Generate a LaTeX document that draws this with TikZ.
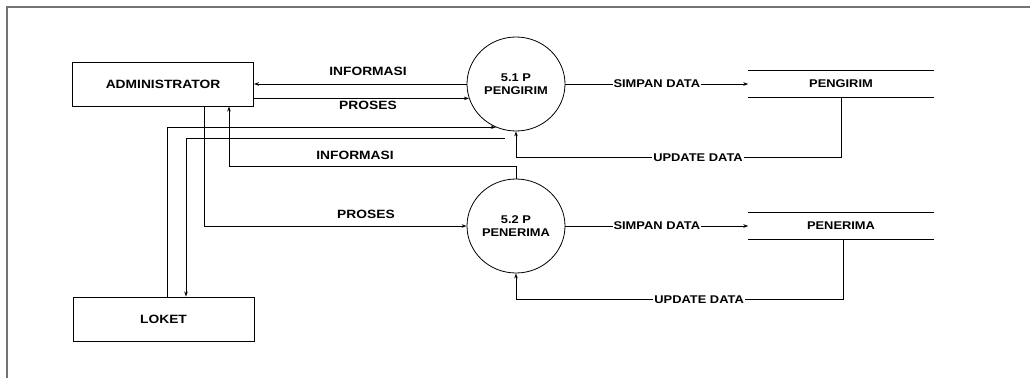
\documentclass[tikz,border=0pt]{standalone}
\usepackage{fontspec}
\newfontfamily\lbl{Liberation Sans}[FakeStretch=1.15]
\usetikzlibrary{shapes.geometric,arrows.meta}
\begin{document}
\begin{tikzpicture}[x=1pt,y=-1pt,
  big/.style={font=\lbl\bfseries\fontsize{12}{13.4}\selectfont},
  small/.style={font=\lbl\bfseries\fontsize{11.2}{13.4}\selectfont},
  ent/.style={draw,line width=0.9pt,minimum width=181pt,minimum height=44pt,inner sep=0pt,big},
  proc/.style={draw,ellipse,line width=0.8pt,minimum width=98pt,minimum height=94pt,inner sep=0pt,align=center,small},
  store/.style={minimum width=185pt,minimum height=26pt,inner sep=0pt,small},
  storeline/.style={line width=0.9pt},
  flow/.style={draw,line width=0.9pt,-{Stealth[length=5pt,width=3.5pt]}},
  lab/.style={inner sep=1pt,big},
  inl/.style={fill=white,inner sep=1pt,small},
  frame/.style={draw=black!55,line width=1.3pt}
]
\useasboundingbox (0,0) rectangle (1030,378);
\draw[frame] (7,378) -- (7,7) -- (1030,7);

\node[ent] (admin) at (163,84) {ADMINISTRATOR};
\node[ent] (loket) at (163.5,319) {LOKET};
\node[proc] (p1) at (516,84) {5.1 P\\PENGIRIM};
\node[proc] (p2) at (516,226) {5.2 P\\PENERIMA};
\node[store] (s1) at (841,84) {PENGIRIM};
\node[store] (s2) at (841,226) {PENERIMA};
\draw[storeline] (s1.north west) -- (s1.north east) (s1.south west) -- (s1.south east);
\draw[storeline] (s2.north west) -- (s2.north east) (s2.south west) -- (s2.south east);

% Administrator <-> 5.1
\draw[flow] (p1.west) -- (admin.east);
\node[lab] (li1) at (368,71) {INFORMASI};
\draw[flow] (admin.east |- p1.197) -- (p1.197);
\node[lab] (lp1) at (368,105) {PROSES};

% Loket -> 5.1
\draw[flow] ([xshift=4pt]loket.north) |- (p1.245);
% 5.1 -> Loket
\coordinate (q) at (505,138);
\draw[flow] (q) -| ([xshift=22.5pt]loket.north);

% 5.2 -> Administrator
\draw[flow] (p2.north) -- ++(0,-12.5) -| ([xshift=66pt]admin.south);
\node[lab] (li2) at (355,155) {INFORMASI};
% Administrator -> 5.2
\draw[flow] ([xshift=41pt]admin.south) |- (p2.west);
\node[lab] (lp2) at (366,214) {PROSES};

% stores
\draw[flow] (p1.east) -- node[inl] {SIMPAN DATA} (s1.west);
\draw[flow] (s1.south) -- ++(0,60.5) -| node[inl,pos=0.22] {UPDATE DATA} (p1.south);
\draw[flow] (p2.east) -- node[inl] {SIMPAN DATA} (s2.west);
\draw[flow] ([xshift=2pt]s2.south) -- ++(0,60) -| node[inl,pos=0.22] {UPDATE DATA} (p2.south);
\end{tikzpicture}
\end{document}
